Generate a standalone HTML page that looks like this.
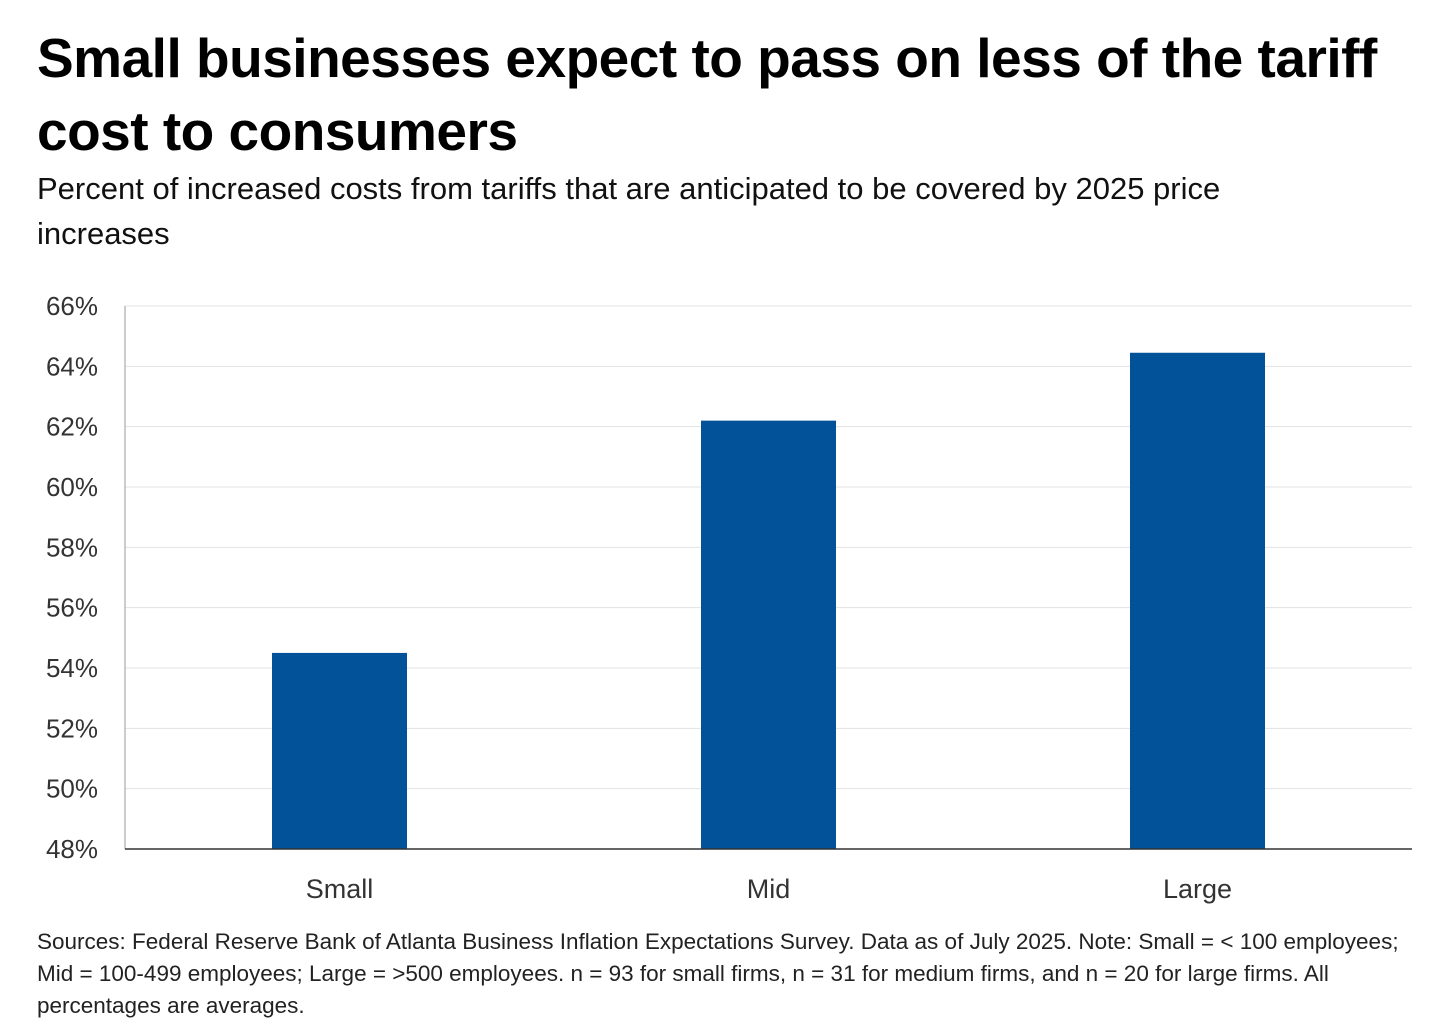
<!DOCTYPE html>
<html><head><meta charset="utf-8"><style>
body{margin:0;width:1440px;height:1035px;background:#fff;font-family:"Liberation Sans",sans-serif;color:#000;position:relative;overflow:hidden}
#title{position:absolute;left:37px;top:22px;font-size:55px;font-weight:bold;line-height:73px;letter-spacing:-0.5px;margin:0}
#sub{position:absolute;left:37px;top:166px;font-size:31px;line-height:45px;color:#111}
#foot{position:absolute;left:37px;top:926px;font-size:22.5px;line-height:32px;color:#222;width:1380px}
svg{position:absolute;left:0;top:0}
</style></head><body>
<h1 id="title">Small businesses expect to pass on less of the tariff<br>cost to consumers</h1>
<div id="sub">Percent of increased costs from tariffs that are anticipated to be covered by 2025 price<br>increases</div>
<svg id="chart" width="1440" height="1035"></svg>
<div id="foot">Sources: Federal Reserve Bank of Atlanta Business Inflation Expectations Survey. Data as of July 2025. Note: Small = &lt; 100 employees; Mid = 100-499 employees; Large = &gt;500 employees. n = 93 for small firms, n = 31 for medium firms, and n = 20 for large firms. All percentages are averages.</div>
<script>
const categories=["Small","Mid","Large"];
const values=[54.5,62.2,64.45];
const yTicks=[48,50,52,54,56,58,60,62,64,66];
const NS="http://www.w3.org/2000/svg";
const svg=document.getElementById('chart');
const L=125,R=1412,T=306,B=849,yMin=48,yMax=66;
const y=v=>B-(v-yMin)/(yMax-yMin)*(B-T);
const band=(R-L)/categories.length;
const x=i=>L+band*(i+0.5);
function mk(t,a){const e=document.createElementNS(NS,t);for(const k in a)e.setAttribute(k,a[k]);svg.appendChild(e);return e;}
yTicks.forEach(v=>{
 if(v!==yMin){const g=mk('line',{x1:L,x2:R,y1:y(v),y2:y(v),stroke:'#e3e3e3','stroke-width':1});
 
 }
 const t=mk('text',{x:98,y:y(v)+9,'text-anchor':'end','font-size':26,fill:'#333','font-family':'Liberation Sans, sans-serif'});
 t.textContent=v+'%';
 
 
});
categories.forEach((c,i)=>{
 const w=135;
 const r=mk('rect',{x:x(i)-w/2,y:y(values[i]),width:w,height:B-y(values[i]),fill:'#02529a'});
 
 
 const t=mk('text',{x:x(i),y:898,'text-anchor':'middle','font-size':27,fill:'#333','font-family':'Liberation Sans, sans-serif'});
 t.textContent=c;
 
 
});
const ya=mk('line',{x1:L,x2:L,y1:T,y2:B,stroke:'#999','stroke-width':1});


const xa=mk('line',{x1:L,x2:R,y1:B,y2:B,stroke:'#333','stroke-width':1.5});


</script>
</body></html>
